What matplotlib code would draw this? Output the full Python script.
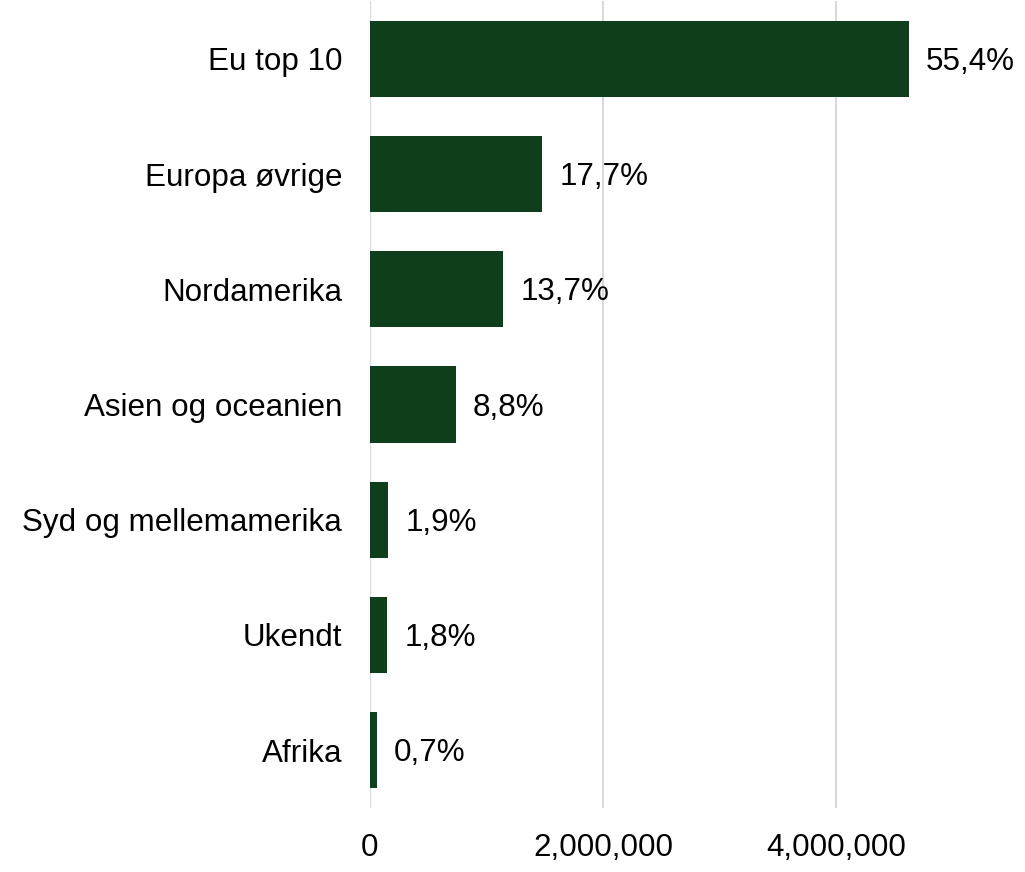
import matplotlib
matplotlib.use("Agg")
import matplotlib.pyplot as plt
from matplotlib.ticker import FuncFormatter

# Regions, ordered as drawn top to bottom
regions = ["Eu top 10", "Europa øvrige", "Nordamerika", "Asien og oceanien",
           "Syd og mellemamerika", "Ukendt", "Afrika"]
values = [4623000, 1477000, 1143000, 734000, 158000, 150000, 58000]
shares = [55.4, 17.7, 13.7, 8.8, 1.9, 1.8, 0.7]
xticks = [0, 2000000, 4000000]

plt.rcParams["font.family"] = ["Liberation Sans", "DejaVu Sans"]

W, H, DPI = 1025, 872, 100
fig = plt.figure(figsize=(W / DPI, H / DPI), dpi=DPI)
left, right, top, bottom = 370, 1000, 1.4, 807.6
ax = fig.add_axes([left / W, 1 - bottom / H, (right - left) / W, (bottom - top) / H])

bar_color = "#0E3E1B"
ypos = list(range(len(regions)))
ax.barh(ypos, values, height=0.66, color=bar_color, zorder=3)
ax.set_ylim(len(regions) - 0.5, -0.5)
ax.set_xlim(0, (right - left) / 116.6 * 1e6)

for y, v, s in zip(ypos, values, shares):
    label = f"{s:.1f}%".replace(".", ",")
    ax.annotate(label, xy=(v, y), xytext=(17, -3), textcoords="offset pixels",
                ha="left", va="center", fontsize=22.6, color="black")

ax.set_yticks(ypos)
ax.set_yticklabels(regions, fontsize=22.6)
ax.set_xticks(xticks)
ax.xaxis.set_major_formatter(FuncFormatter(lambda x, _: f"{int(x):,}"))
ax.tick_params(axis="x", labelsize=22.6, length=0, pad=18)
ax.tick_params(axis="y", length=0, pad=20)

ax.grid(axis="x", color="#D9D9D9", linewidth=1.5, zorder=0)
ax.grid(axis="y", visible=False)
for sp in ax.spines.values():
    sp.set_visible(False)

fig.savefig("out.png", dpi=DPI, facecolor="white")
